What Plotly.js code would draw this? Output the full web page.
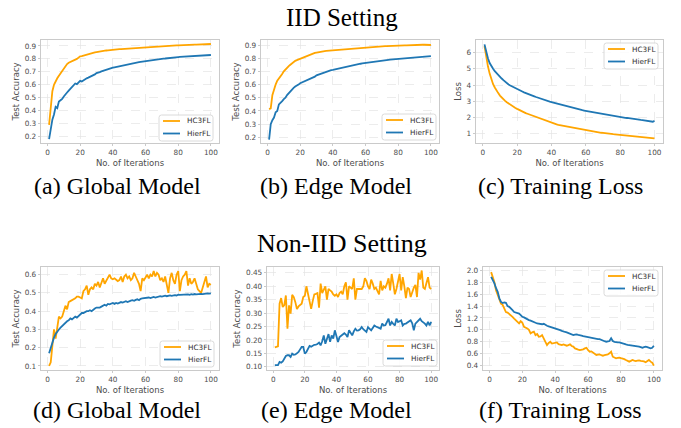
<!DOCTYPE html>
<html>
<head>
<meta charset="utf-8">
<script src="https://cdn.plot.ly/plotly-3.0.1.min.js"></script>
<style>html,body{margin:0;padding:0;background:#fff;}#chart{width:681px;height:428px;}</style>
</head>
<body>
<div id="chart"></div>
<script>
// ---------------- DATA ----------------
const iterations = [1,2,3,4,5,6,7,8,9,10,11,12,13,14,15,16,17,18,19,20,21,22,23,24,25,26,27,28,29,30,31,32,33,34,35,36,37,38,39,40,41,42,43,44,45,46,47,48,49,50,51,52,53,54,55,56,57,58,59,60,61,62,63,64,65,66,67,68,69,70,71,72,73,74,75,76,77,78,79,80,81,82,83,84,85,86,87,88,89,90,91,92,93,94,95,96,97,98,99,100];
const seriesNames = ["HC3FL", "HierFL"];
const sectionTitles = ["IID Setting", "Non-IID Setting"];
const captions = ["(a) Global Model", "(b) Edge Model", "(c) Training Loss", "(d) Global Model", "(e) Edge Model", "(f) Training Loss"];
const xTitle = "No. of Iterations";
const yTitles = ["Test Accuracy", "Test Accuracy", "Loss", "Test Accuracy", "Test Accuracy", "Loss"];

// (a) IID global accuracy
const iidGlobalHC3FL = [0.29,0.45,0.55,0.60,0.63,0.65,0.67,0.69,0.71,0.73,
0.745,0.76,0.77,0.775,0.78,0.79,0.795,0.80,0.81,0.82,
0.822,0.826,0.83,0.835,0.84,0.842,0.845,0.848,0.85,0.852,
0.855,0.857,0.86,0.862,0.863,0.865,0.866,0.868,0.869,0.87,
0.871,0.873,0.874,0.875,0.876,0.877,0.878,0.879,0.88,0.881,
0.882,0.883,0.884,0.885,0.886,0.887,0.888,0.889,0.89,0.891,
0.892,0.893,0.893,0.894,0.895,0.896,0.897,0.897,0.898,0.899,
0.90,0.90,0.901,0.902,0.902,0.903,0.903,0.904,0.905,0.905,
0.906,0.906,0.907,0.907,0.908,0.908,0.909,0.909,0.91,0.91,
0.91,0.911,0.911,0.912,0.912,0.913,0.913,0.914,0.914,0.915];
const iidGlobalHierFL = [0.18,0.27,0.33,0.37,0.43,0.42,0.47,0.48,0.49,0.51,
0.53,0.54,0.555,0.57,0.58,0.595,0.61,0.605,0.62,0.63,
0.625,0.635,0.645,0.65,0.655,0.66,0.67,0.672,0.68,0.69,
0.692,0.698,0.703,0.708,0.712,0.716,0.72,0.724,0.728,0.732,
0.735,0.738,0.741,0.744,0.747,0.75,0.753,0.756,0.758,0.761,
0.763,0.766,0.768,0.77,0.772,0.775,0.777,0.779,0.781,0.785,
0.787,0.788,0.79,0.791,0.793,0.795,0.796,0.798,0.799,0.80,
0.802,0.803,0.805,0.806,0.807,0.809,0.81,0.811,0.812,0.814,
0.815,0.816,0.817,0.818,0.819,0.82,0.821,0.822,0.823,0.824,
0.825,0.826,0.826,0.827,0.828,0.828,0.829,0.83,0.83,0.83];

// (b) IID edge accuracy
const iidEdgeHC3FL = [0.414,0.42,0.52,0.57,0.60,0.63,0.645,0.66,0.68,0.70,
0.715,0.73,0.74,0.75,0.76,0.775,0.78,0.785,0.79,0.80,
0.805,0.81,0.815,0.82,0.825,0.83,0.835,0.838,0.84,0.843,
0.846,0.848,0.85,0.852,0.854,0.855,0.856,0.858,0.86,0.861,
0.862,0.864,0.865,0.866,0.867,0.868,0.869,0.87,0.871,0.872,
0.873,0.874,0.875,0.876,0.877,0.878,0.879,0.88,0.881,0.882,
0.883,0.884,0.885,0.885,0.886,0.887,0.887,0.888,0.889,0.889,
0.89,0.891,0.891,0.892,0.892,0.893,0.893,0.894,0.894,0.895,
0.895,0.896,0.896,0.897,0.897,0.898,0.898,0.899,0.899,0.90,
0.90,0.90,0.901,0.901,0.902,0.902,0.902,0.903,0.901,0.90];
const iidEdgeHierFL = [0.182,0.30,0.33,0.35,0.39,0.40,0.45,0.46,0.475,0.49,
0.50,0.52,0.535,0.55,0.56,0.575,0.585,0.59,0.60,0.61,
0.615,0.62,0.625,0.635,0.64,0.645,0.65,0.655,0.66,0.67,
0.675,0.68,0.685,0.69,0.695,0.70,0.70,0.705,0.71,0.712,
0.715,0.718,0.72,0.722,0.725,0.728,0.73,0.733,0.735,0.738,
0.74,0.745,0.747,0.75,0.752,0.755,0.758,0.76,0.762,0.765,
0.767,0.768,0.77,0.772,0.774,0.776,0.777,0.779,0.78,0.782,
0.783,0.785,0.786,0.788,0.789,0.79,0.792,0.793,0.795,0.796,
0.797,0.799,0.80,0.801,0.802,0.804,0.805,0.806,0.807,0.808,
0.809,0.81,0.811,0.812,0.813,0.812,0.814,0.815,0.816,0.815];

// (c) IID training loss
const iidLossHC3FL = [6.4,5.7,5.15,4.7,4.35,4.05,3.85,3.65,3.5,3.35,
3.22,3.11,3.02,2.94,2.86,2.79,2.72,2.65,2.59,2.53,
2.47,2.42,2.37,2.32,2.27,2.23,2.19,2.15,2.1,2.06,
2.02,1.98,1.94,1.9,1.86,1.82,1.78,1.74,1.7,1.66,
1.63,1.6,1.58,1.55,1.53,1.5,1.47,1.45,1.42,1.4,
1.38,1.36,1.34,1.32,1.3,1.28,1.26,1.24,1.22,1.2,
1.19,1.17,1.16,1.14,1.12,1.11,1.09,1.08,1.06,1.05,
1.03,1.02,1.01,0.99,0.98,0.97,0.96,0.95,0.94,0.93,
0.92,0.91,0.9,0.89,0.88,0.87,0.86,0.85,0.84,0.83,
0.82,0.81,0.8,0.79,0.78,0.77,0.76,0.75,0.74,0.72];
const iidLossHierFL = [6.5,6.0,5.65,5.35,5.15,5.0,4.85,4.72,4.6,4.5,
4.4,4.3,4.2,4.1,4.03,3.97,3.91,3.86,3.81,3.76,
3.7,3.65,3.6,3.55,3.5,3.46,3.42,3.38,3.34,3.3,
3.26,3.22,3.18,3.15,3.11,3.08,3.04,3.01,2.98,2.95,
2.92,2.89,2.86,2.83,2.8,2.77,2.74,2.71,2.68,2.66,
2.63,2.6,2.58,2.55,2.53,2.5,2.48,2.45,2.43,2.41,
2.39,2.36,2.34,2.32,2.3,2.28,2.26,2.24,2.22,2.2,
2.18,2.16,2.15,2.13,2.11,2.09,2.08,2.06,2.05,2.03,
2.01,2.0,1.98,1.97,1.95,1.94,1.92,1.91,1.89,1.88,
1.87,1.85,1.84,1.82,1.81,1.8,1.78,1.76,1.74,1.79];

// (d) Non-IID global accuracy
const niidGlobalHC3FL = [0.10,0.12,0.21,0.30,0.25,0.32,0.37,0.36,0.37,0.40,
0.43,0.41,0.45,0.455,0.46,0.465,0.47,0.48,0.48,0.475,
0.47,0.51,0.52,0.54,0.49,0.52,0.53,0.52,0.55,0.54,
0.56,0.53,0.56,0.58,0.55,0.57,0.59,0.60,0.58,0.575,
0.58,0.57,0.565,0.57,0.59,0.56,0.59,0.60,0.58,0.59,
0.57,0.58,0.61,0.59,0.57,0.55,0.51,0.58,0.57,0.59,
0.60,0.58,0.60,0.59,0.62,0.59,0.61,0.60,0.57,0.58,
0.56,0.59,0.55,0.50,0.58,0.61,0.57,0.55,0.60,0.62,
0.51,0.57,0.59,0.60,0.62,0.54,0.58,0.55,0.56,0.58,
0.55,0.52,0.51,0.50,0.53,0.56,0.59,0.53,0.55,0.545];
const niidGlobalHierFL = [0.17,0.20,0.23,0.255,0.275,0.29,0.30,0.31,0.32,0.325,
0.335,0.345,0.35,0.36,0.355,0.365,0.37,0.365,0.375,0.385,
0.39,0.39,0.395,0.40,0.40,0.405,0.40,0.41,0.415,0.42,
0.418,0.42,0.425,0.43,0.435,0.43,0.44,0.438,0.44,0.445,
0.44,0.445,0.442,0.445,0.45,0.447,0.452,0.455,0.45,0.455,
0.458,0.46,0.457,0.462,0.465,0.46,0.468,0.47,0.472,0.47,
0.473,0.475,0.472,0.476,0.478,0.475,0.478,0.48,0.482,0.48,
0.483,0.485,0.482,0.485,0.486,0.484,0.487,0.488,0.486,0.49,
0.489,0.49,0.488,0.491,0.49,0.492,0.49,0.493,0.491,0.494,
0.492,0.494,0.493,0.495,0.494,0.496,0.495,0.497,0.496,0.497];

// (e) Non-IID edge accuracy
const niidEdgeHC3FL = [0.172,0.175,0.176,0.335,0.356,0.323,0.33,0.366,0.242,0.329,
0.298,0.368,0.36,0.341,0.315,0.325,0.33,0.335,0.36,0.365,
0.40,0.375,0.35,0.316,0.345,0.37,0.372,0.375,0.32,0.41,
0.375,0.385,0.40,0.35,0.39,0.385,0.38,0.37,0.365,0.37,
0.36,0.375,0.38,0.37,0.40,0.415,0.35,0.40,0.395,0.39,
0.43,0.35,0.39,0.39,0.39,0.39,0.40,0.43,0.42,0.40,
0.39,0.425,0.41,0.39,0.395,0.385,0.37,0.42,0.385,0.40,
0.395,0.41,0.43,0.385,0.446,0.41,0.37,0.39,0.42,0.446,
0.385,0.434,0.40,0.356,0.395,0.39,0.36,0.38,0.395,0.405,
0.36,0.45,0.425,0.459,0.395,0.39,0.41,0.434,0.395,0.39];
const niidEdgeHierFL = [0.106,0.105,0.106,0.118,0.115,0.12,0.133,0.14,0.143,0.143,
0.137,0.149,0.145,0.146,0.15,0.155,0.165,0.174,0.174,0.149,
0.155,0.17,0.178,0.175,0.18,0.182,0.183,0.185,0.19,0.18,
0.195,0.217,0.186,0.205,0.222,0.193,0.217,0.205,0.236,0.215,
0.192,0.211,0.215,0.22,0.225,0.22,0.211,0.236,0.225,0.217,
0.232,0.242,0.235,0.236,0.24,0.248,0.24,0.236,0.23,0.248,
0.24,0.236,0.245,0.254,0.25,0.248,0.245,0.242,0.261,0.254,
0.255,0.265,0.279,0.254,0.267,0.26,0.254,0.279,0.267,0.27,
0.273,0.254,0.26,0.261,0.265,0.267,0.273,0.262,0.236,0.261,
0.268,0.273,0.279,0.27,0.267,0.261,0.254,0.267,0.254,0.267];

// (f) Non-IID training loss
const niidLossHC3FL = [1.97,1.88,1.80,1.66,1.58,1.52,1.44,1.42,1.36,1.30,
1.29,1.27,1.24,1.22,1.19,1.16,1.13,1.11,1.147,1.12,
1.05,1.04,1.025,1.00,0.94,0.96,0.97,0.913,0.93,0.885,
0.89,0.913,0.86,0.80,0.746,0.78,0.80,0.77,0.774,0.78,
0.79,0.76,0.757,0.745,0.757,0.74,0.735,0.745,0.757,0.73,
0.72,0.69,0.685,0.67,0.662,0.665,0.673,0.69,0.70,0.66,
0.634,0.64,0.623,0.60,0.579,0.585,0.59,0.575,0.567,0.575,
0.579,0.59,0.606,0.634,0.55,0.54,0.523,0.53,0.534,0.525,
0.523,0.51,0.495,0.48,0.467,0.48,0.495,0.485,0.478,0.485,
0.489,0.48,0.478,0.47,0.456,0.47,0.495,0.467,0.45,0.40];
const niidLossHierFL = [1.89,1.84,1.78,1.70,1.64,1.53,1.47,1.45,1.46,1.455,
1.40,1.387,1.35,1.331,1.30,1.292,1.28,1.275,1.25,1.22,
1.21,1.192,1.18,1.164,1.155,1.147,1.13,1.12,1.108,1.10,
1.091,1.095,1.103,1.08,1.069,1.06,1.052,1.045,1.036,1.03,
1.025,1.01,0.997,0.985,0.969,0.965,0.958,0.95,0.941,0.93,
0.913,0.92,0.924,0.915,0.913,0.905,0.896,0.89,0.885,0.875,
0.868,0.862,0.857,0.85,0.841,0.845,0.846,0.83,0.813,0.81,
0.802,0.81,0.813,0.86,0.813,0.80,0.79,0.792,0.79,0.785,
0.774,0.765,0.757,0.75,0.746,0.74,0.735,0.738,0.735,0.725,
0.718,0.71,0.701,0.712,0.718,0.71,0.701,0.69,0.70,0.735];

const xTickVals = [0, 20, 40, 60, 80, 100];
const yTickVals = [
  [0.2,0.3,0.4,0.5,0.6,0.7,0.8,0.9],
  [0.2,0.3,0.4,0.5,0.6,0.7,0.8,0.9],
  [1,2,3,4,5,6],
  [0.1,0.2,0.3,0.4,0.5,0.6],
  [0.10,0.15,0.20,0.25,0.30,0.35,0.40,0.45],
  [0.4,0.6,0.8,1.0,1.2,1.4,1.6,1.8,2.0]
];
const yTickFormats = [".1f", ".1f", "d", ".1f", ".2f", ".1f"];
const panelSeries = [
  [iidGlobalHC3FL, iidGlobalHierFL],
  [iidEdgeHC3FL, iidEdgeHierFL],
  [iidLossHC3FL, iidLossHierFL],
  [niidGlobalHC3FL, niidGlobalHierFL],
  [niidEdgeHC3FL, niidEdgeHierFL],
  [niidLossHC3FL, niidLossHierFL]
];

// ---------------- LAYOUT / STYLE ----------------
const W = 681, H = 428;
const colors = ["#FFA500", "#1f77b4"];
// pixel boxes of the six plot areas [left, right, top, bottom]
const boxes = [
  [41, 219, 40, 143],
  [261, 439, 40, 143],
  [476, 663, 40, 143],
  [41, 219, 267, 370],
  [267, 439, 267, 370],
  [483, 662, 267, 370]
];
const yRanges = [[0.15, 0.946], [0.157, 0.938], [0.43, 6.77], [0.078, 0.642], [0.088, 0.472], [0.327, 2.056]];
// legend box top-left corners (px); each legend box is 54 x 26 px
const legendBoxes = [[159, 115], [382, 114], [604, 43], [160, 341], [383, 340], [604, 270]];
const LEG_W = 54, LEG_H = 26, LEG_R = 2.5;
const captionPos = [[117, 186], [336, 186], [560, 186], [117, 410], [336, 410], [560, 410]];
const sectionPos = [[342, 17.5], [342, 244]];

const px = x => x / W;
const py = y => 1 - y / H;

const tickFont = {family: "DejaVu Sans", size: 7.3, color: "#4d4d4d"};
const labelFont = {family: "DejaVu Sans", size: 8.5, color: "#4d4d4d"};
const legendFont = {family: "DejaVu Sans", size: 7.3, color: "#333333"};

const traces = [];
const layout = {
  width: W, height: H,
  margin: {l: 0, r: 0, t: 0, b: 0},
  paper_bgcolor: "#ffffff",
  plot_bgcolor: "#ffffff",
  annotations: [],
  shapes: [],
  showlegend: false
};

function roundedRectPath(l, t, w, h, r) {
  const x0 = px(l), x1 = px(l + w), y0 = py(t), y1 = py(t + h);
  const rx = r / W, ry = r / H;
  return `M ${x0 + rx},${y0} L ${x1 - rx},${y0} Q ${x1},${y0} ${x1},${y0 - ry} ` +
         `L ${x1},${y1 + ry} Q ${x1},${y1} ${x1 - rx},${y1} L ${x0 + rx},${y1} ` +
         `Q ${x0},${y1} ${x0},${y1 + ry} L ${x0},${y0 - ry} Q ${x0},${y0} ${x0 + rx},${y0} Z`;
}

for (let i = 0; i < 6; i++) {
  const n = i + 1;
  const xa = n === 1 ? "x" : "x" + n;
  const ya = n === 1 ? "y" : "y" + n;
  panelSeries[i].forEach((s, k) => {
    traces.push({
      x: iterations, y: s, type: "scatter", mode: "lines",
      name: seriesNames[k], xaxis: xa, yaxis: ya,
      line: {color: colors[k], width: 1.8},
      hoverinfo: "skip"
    });
  });
  const b = boxes[i];
  const axCommon = {
    showline: true, mirror: true, linecolor: "#bdbdbd", linewidth: 0.8,
    showgrid: true, gridcolor: "#e4e4e4", gridwidth: 0.7, griddash: "dash",
    zeroline: false, ticks: "outside", ticklen: 2.5, tickcolor: "#bdbdbd", tickwidth: 0.8,
    tickfont: tickFont, automargin: false
  };
  layout["xaxis" + (n === 1 ? "" : n)] = Object.assign({}, axCommon, {
    domain: [px(b[0]), px(b[1])],
    anchor: ya,
    range: [-3.95, 104.95],
    tickvals: xTickVals,
    title: {text: xTitle, font: labelFont, standoff: 3}
  });
  layout["yaxis" + (n === 1 ? "" : n)] = Object.assign({}, axCommon, {
    domain: [py(b[3]), py(b[2])],
    anchor: xa,
    range: yRanges[i],
    tickvals: yTickVals[i],
    tickformat: yTickFormats[i],
    title: {text: yTitles[i], font: labelFont, standoff: 3}
  });

  // legend (matplotlib style: framed, rounded, semi-opaque)
  const lb = legendBoxes[i];
  layout.shapes.push({
    type: "path", xref: "paper", yref: "paper", layer: "above",
    path: roundedRectPath(lb[0], lb[1], LEG_W, LEG_H, LEG_R),
    fillcolor: "rgba(255,255,255,0.85)", line: {color: "#d0d0d0", width: 0.8}
  });
  seriesNames.forEach((nm, k) => {
    const rowY = lb[1] + 6 + k * 12.5;
    layout.shapes.push({
      type: "line", xref: "paper", yref: "paper", layer: "above",
      x0: px(lb[0] + 4), x1: px(lb[0] + 21), y0: py(rowY), y1: py(rowY),
      line: {color: colors[k], width: 1.8}
    });
    layout.annotations.push({
      text: nm, x: px(lb[0] + 26), y: py(rowY),
      xref: "paper", yref: "paper", xanchor: "left", yanchor: "middle",
      showarrow: false, font: legendFont
    });
  });

  layout.annotations.push({
    text: captions[i], x: px(captionPos[i][0]), y: py(captionPos[i][1]),
    xref: "paper", yref: "paper", xanchor: "center", yanchor: "middle",
    showarrow: false, font: {family: "Liberation Serif", size: 24, color: "#000"}
  });
}
sectionTitles.forEach((t, j) => {
  layout.annotations.push({
    text: t, x: px(sectionPos[j][0]), y: py(sectionPos[j][1]),
    xref: "paper", yref: "paper", xanchor: "center", yanchor: "middle",
    showarrow: false, font: {family: "Liberation Serif", size: j === 0 ? 25 : 26, color: "#000"}
  });
});

Plotly.newPlot("chart", traces, layout, {staticPlot: true, displayModeBar: false});
</script>
</body>
</html>
